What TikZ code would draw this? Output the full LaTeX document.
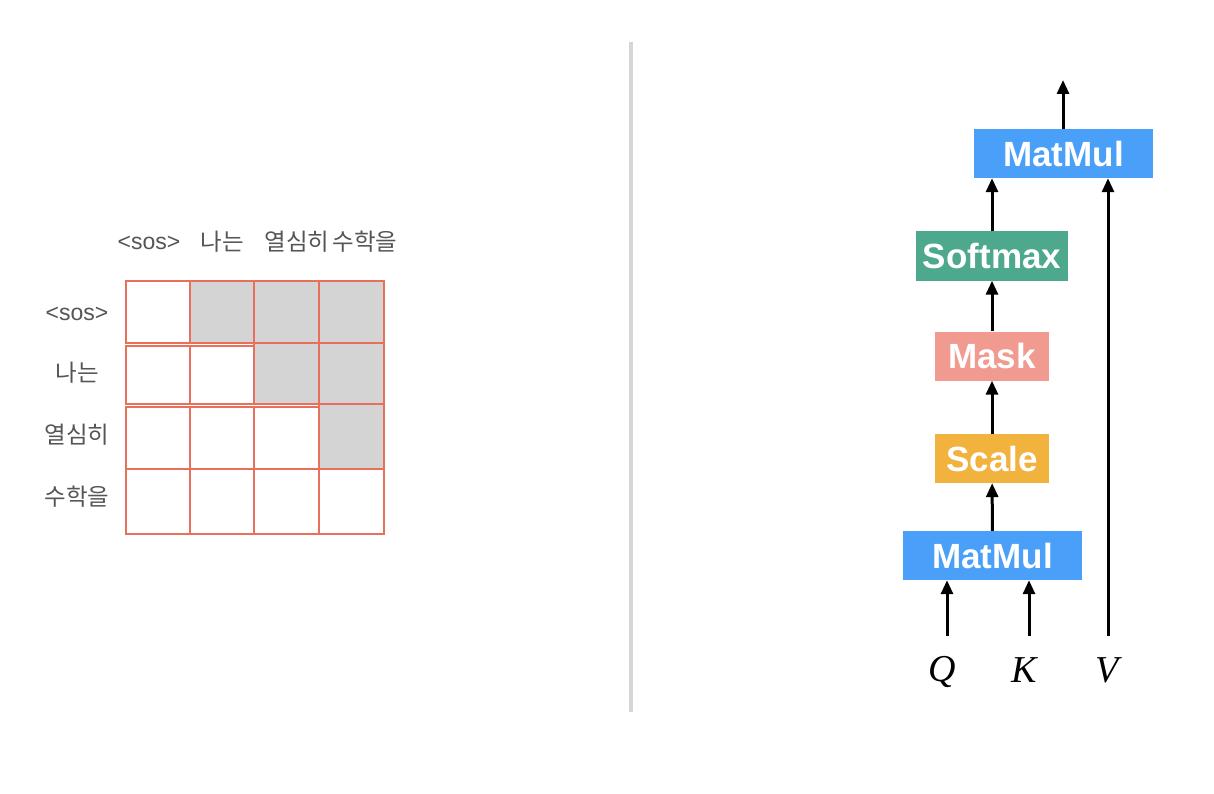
\documentclass[tikz,border=0pt]{standalone}
\usepackage{fontspec}
\setsansfont{Liberation Sans}
\newfontfamily\krfont{Noto Sans CJK KR}
\newfontfamily\qkvfont{Liberation Serif}
\usetikzlibrary{arrows.meta}

\definecolor{gridred}{HTML}{E8705A}
\definecolor{maskgray}{HTML}{D4D4D4}
\definecolor{labelgray}{HTML}{555555}
\definecolor{mmblue}{HTML}{4AA0F8}
\definecolor{smgreen}{HTML}{4DA88E}
\definecolor{mkpink}{HTML}{F19B90}
\definecolor{scorange}{HTML}{F2B23E}

\tikzset{
  cell/.style={draw=gridred, line width=2.3pt},
  masked/.style={cell, fill=maskgray},
  word/.style={font=\krfont\fontsize{23.5}{26}\selectfont, text=labelgray, inner sep=0pt},
  sosword/.style={word, font=\sffamily\fontsize{23}{26}\selectfont},
  opbox/.style={minimum height=49pt, inner sep=0pt, text=white,
    font=\sffamily\bfseries\fontsize{35}{38}\selectfont},
  arr/.style={line width=3pt, -{Triangle[length=14pt,width=12pt]}},
  inlabel/.style={font=\qkvfont\itshape\fontsize{38}{42}\selectfont, inner sep=0pt}
}

\begin{document}
\begin{tikzpicture}[x=1pt, y=-1pt]
\useasboundingbox (0,0) rectangle (1214,794);

% Column and row words
\node[sosword] (c1) at (149,243) {<sos>};
\node[word] (c2) at (222,242) {나는};
\node[word] (c3) at (297,242) {열심히};
\node[word] (c4) at (365,242) {수학을};
\node[sosword] (r1) at (77,314) {<sos>};
\node[word] (r2) at (77,373) {나는};
\node[word] (r3) at (77,435) {열심히};
\node[word] (r4) at (77,497) {수학을};

% Mask grid
\draw[cell] (126,281) rectangle (190,343);
\draw[masked] (190,281) rectangle (254,343);
\draw[masked] (254,281) rectangle (319,343);
\draw[masked] (319,281) rectangle (384,343);
\draw[cell] (126,346) rectangle (190,404);
\draw[cell] (190,346) rectangle (254,404);
\draw[masked] (254,343) rectangle (319,404);
\draw[masked] (319,343) rectangle (384,404);
\draw[cell] (126,407) rectangle (190,469);
\draw[cell] (190,407) rectangle (254,469);
\draw[cell] (254,407) rectangle (319,469);
\draw[masked] (319,404) rectangle (384,469);
\draw[cell] (126,469) rectangle (190,534);
\draw[cell] (190,469) rectangle (254,534);
\draw[cell] (254,469) rectangle (319,534);
\draw[cell] (319,469) rectangle (384,534);

% Divider
\draw[line width=4.5pt, color=black!16] (631,42) -- (631,712);

% Attention blocks
\node[opbox, fill=mmblue, minimum width=179pt] (mm2) at (1063.5,153.5) {MatMul};
\node[opbox, fill=smgreen, minimum width=152pt] (sm) at (992,256) {Softmax};
\node[opbox, fill=mkpink, minimum width=114pt] (mk) at (992,356) {Mask};
\node[opbox, fill=scorange, minimum width=114pt] (sc) at (992,458.5) {Scale};
\node[opbox, fill=mmblue, minimum width=179pt] (mm1) at (992.5,555.5) {MatMul};

\node[inlabel] (q) at (942,672) {Q};
\node[inlabel] (k) at (1024,670) {K};
\node[inlabel] (v) at (1107,670) {V};
\coordinate (qin) at (947,636);
\coordinate (kin) at (1029,636);
\coordinate (vin) at (1108,636);
\coordinate (out) at (1063,80);

% Arrows
\draw[arr] (qin) -- (qin |- mm1.south);
\draw[arr] (kin) -- (kin |- mm1.south);
\draw[arr] (vin) -- (vin |- mm2.south);
\draw[arr] (mm1) -- (sc);
\draw[arr] (sc) -- (mk);
\draw[arr] (mk) -- (sm);
\draw[arr] (sm.north) -- (sm.north |- mm2.south);
\draw[arr] (mm2.north -| out) -- (out);
\end{tikzpicture}
\end{document}
